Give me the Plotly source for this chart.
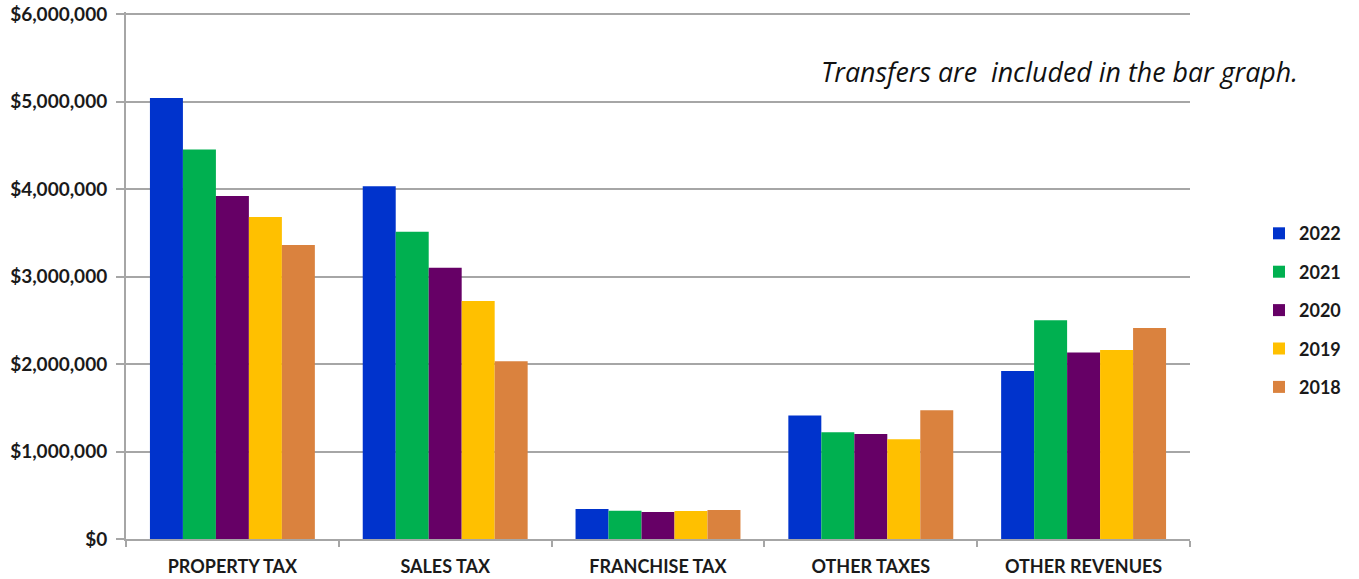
import plotly.graph_objects as go

categories = ["PROPERTY TAX", "SALES TAX", "FRANCHISE TAX", "OTHER TAXES", "OTHER REVENUES"]
years = ["2022", "2021", "2020", "2019", "2018"]
v2022 = [5040000, 4030000, 343000, 1410000, 1920000]
v2021 = [4450000, 3510000, 324000, 1220000, 2500000]
v2020 = [3920000, 3100000, 309000, 1200000, 2130000]
v2019 = [3680000, 2720000, 320000, 1140000, 2160000]
v2018 = [3360000, 2030000, 331000, 1470000, 2410000]
series = [v2022, v2021, v2020, v2019, v2018]
colors = ["#0033CC", "#00B050", "#660066", "#FFC000", "#DA823E"]
y_ticks = [0, 1000000, 2000000, 3000000, 4000000, 5000000, 6000000]
y_tick_labels = ["$0", "$1,000,000", "$2,000,000", "$3,000,000", "$4,000,000", "$5,000,000", "$6,000,000"]
note = "Transfers are  included in the bar graph."

FONT = "Lato"

fig = go.Figure()
for name, vals, col in zip(years, series, colors):
    fig.add_trace(go.Bar(
        x=categories, y=vals, name=name, legendgroup=name,
        marker=dict(color=col, line=dict(width=0)),
    ))

fig.update_layout(
    width=1359, height=579,
    margin=dict(l=126, r=169, t=12, b=40, autoexpand=False),
    paper_bgcolor="white", plot_bgcolor="white",
    barmode="group", bargap=0.225, bargroupgap=0,
    font=dict(family=FONT, color="#1a1a1a"),
    showlegend=True,
    legend=dict(
        x=1259 / 1359, xanchor="left", xref="container",
        y=0.6146, yanchor="top", yref="paper",
        font=dict(family=FONT, size=18, color="#1a1a1a", weight="bold"),
        tracegroupgap=12, itemwidth=30,
        bgcolor="rgba(0,0,0,0)",
    ),
    annotations=[dict(
        text=note, xref="paper", yref="paper", x=1.1033, y=0.8877,
        xanchor="right", yanchor="middle", showarrow=False,
        font=dict(family="Open Sans", size=26.8, color="#111111", style="italic"),
    )],
)

fig.update_xaxes(
    showgrid=False, showline=True, linecolor="#a6a6a6", linewidth=2,
    ticks="outside", tickson="boundaries", ticklen=6, tickcolor="#a6a6a6", tickwidth=2,
    tickfont=dict(family=FONT, size=18, color="#1a1a1a", weight="bold"),
    ticklabelstandoff=10, automargin=False,
)
fig.update_yaxes(
    range=[0, 6022857], tickvals=y_ticks, ticktext=y_tick_labels,
    showgrid=True, gridcolor="#a6a6a6", gridwidth=2,
    showline=True, linecolor="#a6a6a6", linewidth=2,
    ticks="outside", ticklen=8, tickcolor="#a6a6a6", tickwidth=2,
    tickfont=dict(family=FONT, size=19, color="#1a1a1a", weight="bold"),
    ticklabelstandoff=5, ticklabeloverflow="allow",
    zeroline=False, automargin=False,
)

fig.write_html(
    "out.html",
    config={"displayModeBar": False},
    post_script="document.body.style.margin='0px';",
)
